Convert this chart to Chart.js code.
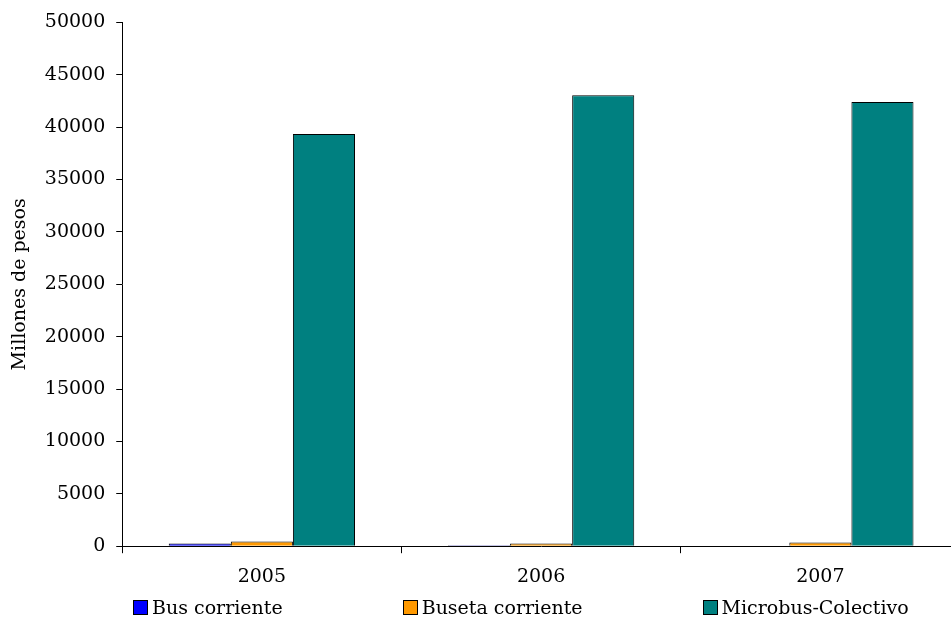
<!DOCTYPE html>
<html>
<head>
<meta charset="utf-8">
<script src="https://cdn.jsdelivr.net/npm/chart.js@4/dist/chart.umd.min.js"></script>
<style>
  html, body { margin: 0; padding: 0; background: #fff; overflow: hidden; }
  #wrap { position: relative; width: 960px; height: 618px; }
  #plot { position: absolute; left: 0; top: 0; width: 960px; height: 600px; }
  #legend { position: absolute; left: 133px; top: 597px; height: 20px; display: flex; gap: 120px;
            font: 19px 'DejaVu Serif'; line-height: 20px; color: #000; white-space: nowrap; }
  #legend .item { display: flex; align-items: center; }
  #legend .box { width: 13px; height: 13px; border: 1px solid #000; margin-right: 4px; }
</style>
</head>
<body>
<div id="wrap">
  <div id="plot"><canvas id="chart"></canvas></div>
  <div id="legend"></div>
</div>
<script>
const years = ['2005', '2006', '2007'];
const busCorriente = [250, 80, 0];
const busetaCorriente = [450, 250, 350];
const microbusColectivo = [39350, 43050, 42400];
const yTicks = [0, 5000, 10000, 15000, 20000, 25000, 30000, 35000, 40000, 45000, 50000];

const serif = 'DejaVu Serif';

// legend as html under the canvas, built from chart's own legend items
const htmlLegend = {
    id: 'htmlLegend',
    afterUpdate(chart) {
        const el = document.getElementById('legend');
        el.innerHTML = '';
        const items = chart.options.plugins.legend.labels.generateLabels(chart);
        items.forEach(it => {
            const row = document.createElement('span');
            row.className = 'item';
            const box = document.createElement('span');
            box.className = 'box';
            box.style.background = it.fillStyle;
            const txt = document.createElement('span');
            txt.textContent = it.text;
            row.appendChild(box);
            row.appendChild(txt);
            el.appendChild(row);
        });
    }
};

new Chart(document.getElementById('chart'), {
    type: 'bar',
    data: {
        labels: years,
        datasets: [
            { label: 'Bus corriente', data: busCorriente, backgroundColor: '#0000ff', borderColor: '#000', borderWidth: 1 },
            { label: 'Buseta corriente', data: busetaCorriente, backgroundColor: '#ff9900', borderColor: '#000', borderWidth: 1 },
            { label: 'Microbus-Colectivo', data: microbusColectivo, backgroundColor: '#008080', borderColor: '#000', borderWidth: 1 }
        ]
    },
    plugins: [htmlLegend],
    options: {
        responsive: true,
        maintainAspectRatio: false,
        animation: false,
        categoryPercentage: 0.667,
        barPercentage: 1,
        layout: { padding: { top: 22, left: 6, right: 0, bottom: 0 } },
        plugins: {
            tooltip: { enabled: false },
            legend: { display: false }
        },
        scales: {
            x: {
                grid: { display: true, drawOnChartArea: false, offset: true, tickLength: 7, color: '#000' },
                border: { color: '#000' },
                ticks: { color: '#000', font: { family: serif, size: 19 }, padding: 12 }
            },
            y: {
                min: 0,
                max: 50000,
                afterBuildTicks: axis => { axis.ticks = yTicks.map(v => ({ value: v })); },
                grid: { display: true, drawOnChartArea: false, tickLength: 6, color: '#000' },
                border: { color: '#000' },
                ticks: {
                    color: '#000',
                    font: { family: serif, size: 19 },
                    padding: 11,
                    autoSkip: false,
                    callback: v => String(v)
                },
                title: {
                    display: true,
                    text: 'Millones de pesos',
                    color: '#000',
                    font: { family: serif, size: 19 },
                    padding: { top: 3, bottom: 2 }
                }
            }
        }
    }
});
</script>
</body>
</html>
